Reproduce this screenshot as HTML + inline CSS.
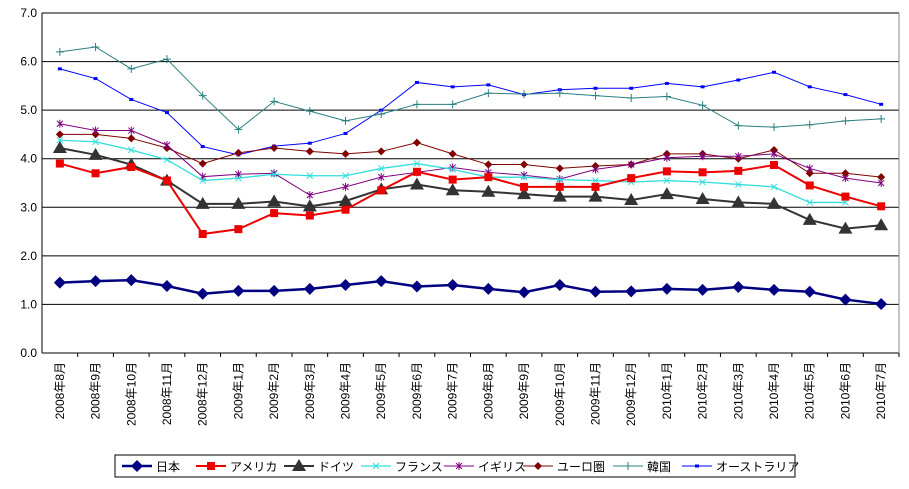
<!DOCTYPE html>
<html><head><meta charset="utf-8"><style>
body{margin:0;background:#fff;font-family:"Liberation Sans","Noto Sans CJK JP",sans-serif}
svg text{font-family:"Liberation Sans","Noto Sans CJK JP",sans-serif;font-size:12px}
</style></head><body>
<svg id="c" width="909" height="484" xmlns="http://www.w3.org/2000/svg"></svg>
<script>
const categories=["2008年8月","2008年9月","2008年10月","2008年11月","2008年12月","2009年1月","2009年2月","2009年3月","2009年4月","2009年5月","2009年6月","2009年7月","2009年8月","2009年9月","2009年10月","2009年11月","2009年12月","2010年1月","2010年2月","2010年3月","2010年4月","2010年5月","2010年6月","2010年7月"];
const yTicks=["0.0","1.0","2.0","3.0","4.0","5.0","6.0","7.0"];
const japan=[1.45,1.48,1.50,1.38,1.22,1.28,1.28,1.32,1.40,1.48,1.37,1.40,1.32,1.25,1.40,1.26,1.27,1.32,1.30,1.36,1.30,1.26,1.10,1.01];
const america=[3.9,3.7,3.83,3.55,2.45,2.55,2.88,2.83,2.95,3.35,3.73,3.57,3.62,3.42,3.42,3.42,3.6,3.74,3.72,3.75,3.87,3.45,3.22,3.02];
const germany=[4.22,4.08,3.88,3.55,3.07,3.07,3.12,3.02,3.13,3.37,3.47,3.35,3.32,3.27,3.22,3.22,3.15,3.27,3.17,3.1,3.07,2.74,2.56,2.63];
const france=[4.38,4.35,4.18,3.98,3.55,3.6,3.68,3.65,3.65,3.8,3.9,3.78,3.62,3.62,3.57,3.55,3.52,3.55,3.52,3.47,3.42,3.1,3.1];
const uk=[4.72,4.58,4.58,4.28,3.63,3.68,3.7,3.25,3.42,3.62,3.72,3.82,3.72,3.66,3.58,3.78,3.88,4.02,4.05,4.05,4.1,3.8,3.6,3.5];
const euro=[4.5,4.5,4.42,4.22,3.9,4.12,4.22,4.15,4.1,4.15,4.33,4.1,3.88,3.88,3.8,3.85,3.88,4.1,4.1,4.0,4.18,3.7,3.7,3.62];
const korea=[6.2,6.3,5.85,6.05,5.3,4.6,5.18,4.98,4.78,4.92,5.12,5.12,5.35,5.33,5.35,5.3,5.25,5.28,5.1,4.68,4.65,4.7,4.78,4.82];
const australia=[5.85,5.65,5.22,4.95,4.25,4.08,4.26,4.32,4.52,5.0,5.57,5.48,5.52,5.32,5.42,5.45,5.45,5.55,5.48,5.62,5.78,5.48,5.32,5.12];
const seriesNames=["日本","アメリカ","ドイツ","フランス","イギリス","ユーロ圏","韓国","オーストラリア"];

const svg=document.getElementById('c');const NS="http://www.w3.org/2000/svg";
function el(t,a,p){const e=document.createElementNS(NS,t);for(const k in a)e.setAttribute(k,a[k]);(p||svg).appendChild(e);return e;}
const X0=42,X1=899,Y0=353,Y1=13,YMAX=7;
const step=(X1-X0)/categories.length;
const x=i=>X0+step*(i+0.5);
const y=v=>Y0-(v/YMAX)*(Y0-Y1);
yTicks.forEach((t,i)=>{const v=parseFloat(t);
 const g=el('line',{x1:X0,x2:X1,y1:y(v),y2:y(v),stroke:'#000','stroke-width':1});
 
 
 const tx=el('text',{x:X0-5,y:y(v)+4,'text-anchor':'end'});tx.textContent=t;
 
 
});
const ax=el('line',{x1:X0,x2:X0,y1:Y1,y2:Y0,stroke:'#000'});


const rb=el('line',{x1:X1,x2:X1,y1:Y1,y2:Y0,stroke:'#888'});


categories.forEach((c,i)=>{
 const tk=el('line',{x1:x(i)+step/2,x2:x(i)+step/2,y1:Y0,y2:Y0+4,stroke:'#000'});
 
 
 const t=el('text',{x:0,y:0,'text-anchor':'end',transform:`translate(${x(i)+4},${Y0+9}) rotate(-90)`});
 t.textContent=c;
 
 
});
function marker(kind,cx,cy,color,g){
 if(kind==='diamond')return el('polygon',{points:`${cx},${cy-6} ${cx+6},${cy} ${cx},${cy+6} ${cx-6},${cy}`,fill:color},g);
 if(kind==='square')return el('rect',{x:cx-4,y:cy-4,width:8,height:8,fill:color},g);
 if(kind==='triangle')return el('polygon',{points:`${cx},${cy-7} ${cx+7},${cy+5} ${cx-7},${cy+5}`,fill:color},g);
 if(kind==='x')return el('path',{d:`M${cx-3} ${cy-3}L${cx+3} ${cy+3}M${cx-3} ${cy+3}L${cx+3} ${cy-3}`,stroke:color,'stroke-width':1},g);
 if(kind==='star')return el('path',{d:`M${cx-3} ${cy-3}L${cx+3} ${cy+3}M${cx-3} ${cy+3}L${cx+3} ${cy-3}M${cx} ${cy-4}L${cx} ${cy+4}`,stroke:color,'stroke-width':1},g);
 if(kind==='smalldiamond')return el('polygon',{points:`${cx},${cy-4} ${cx+4},${cy} ${cx},${cy+4} ${cx-4},${cy}`,fill:color},g);
 if(kind==='plus')return el('path',{d:`M${cx-4} ${cy}L${cx+4} ${cy}M${cx} ${cy-4}L${cx} ${cy+4}`,stroke:color,'stroke-width':1},g);
 if(kind==='dash')return el('rect',{x:cx-2,y:cy-1.5,width:4,height:3,fill:color},g);
}
const defs=[
 [australia,'#0000ff',1,'dash','series-australia'],
 [korea,'#2a8080',1,'plus','series-korea'],
 [euro,'#800000',1,'smalldiamond','series-euro'],
 [uk,'#800080',1,'star','series-uk'],
 [france,'#33dddd',1.3,'x','series-france'],
 [germany,'#333333',2,'triangle','series-germany'],
 [america,'#ee0000',2,'square','series-america'],
 [japan,'#000080',2.5,'diamond','series-japan']];
defs.forEach(([d,col,w,m,name])=>{
 const g=el('g',{});
 
 
 const p=el('polyline',{points:d.map((v,i)=>x(i)+','+y(v)).join(' '),fill:'none',stroke:col,'stroke-width':w},g);
 
 
 d.forEach((v,i)=>{const mk=marker(m,x(i),y(v),col,g);
  
  });
});
// legend
const lg=el('g',{});


el('rect',{x:115,y:455,width:680,height:22,fill:'#fff',stroke:'#000'},lg);
const legOrder=[['#000080','diamond',2.5],['#ee0000','square',2],['#333333','triangle',2],['#33dddd','x',1.3],['#800080','star',1],['#800000','smalldiamond',1],['#2a8080','plus',1],['#0000ff','dash',1]];
const legX=[122,196,284,361,444,523,613,682];
seriesNames.forEach((n,i)=>{
 const g=el('g',{},lg);
 
 
 const [col,m,w]=legOrder[i];const lx=legX[i];
 el('line',{x1:lx,x2:lx+30,y1:466,y2:466,stroke:col,'stroke-width':w},g);
 marker(m,lx+15,466,col,g);
 const t=el('text',{x:lx+34,y:471},g);t.textContent=n;
});
</script>
</body></html>
